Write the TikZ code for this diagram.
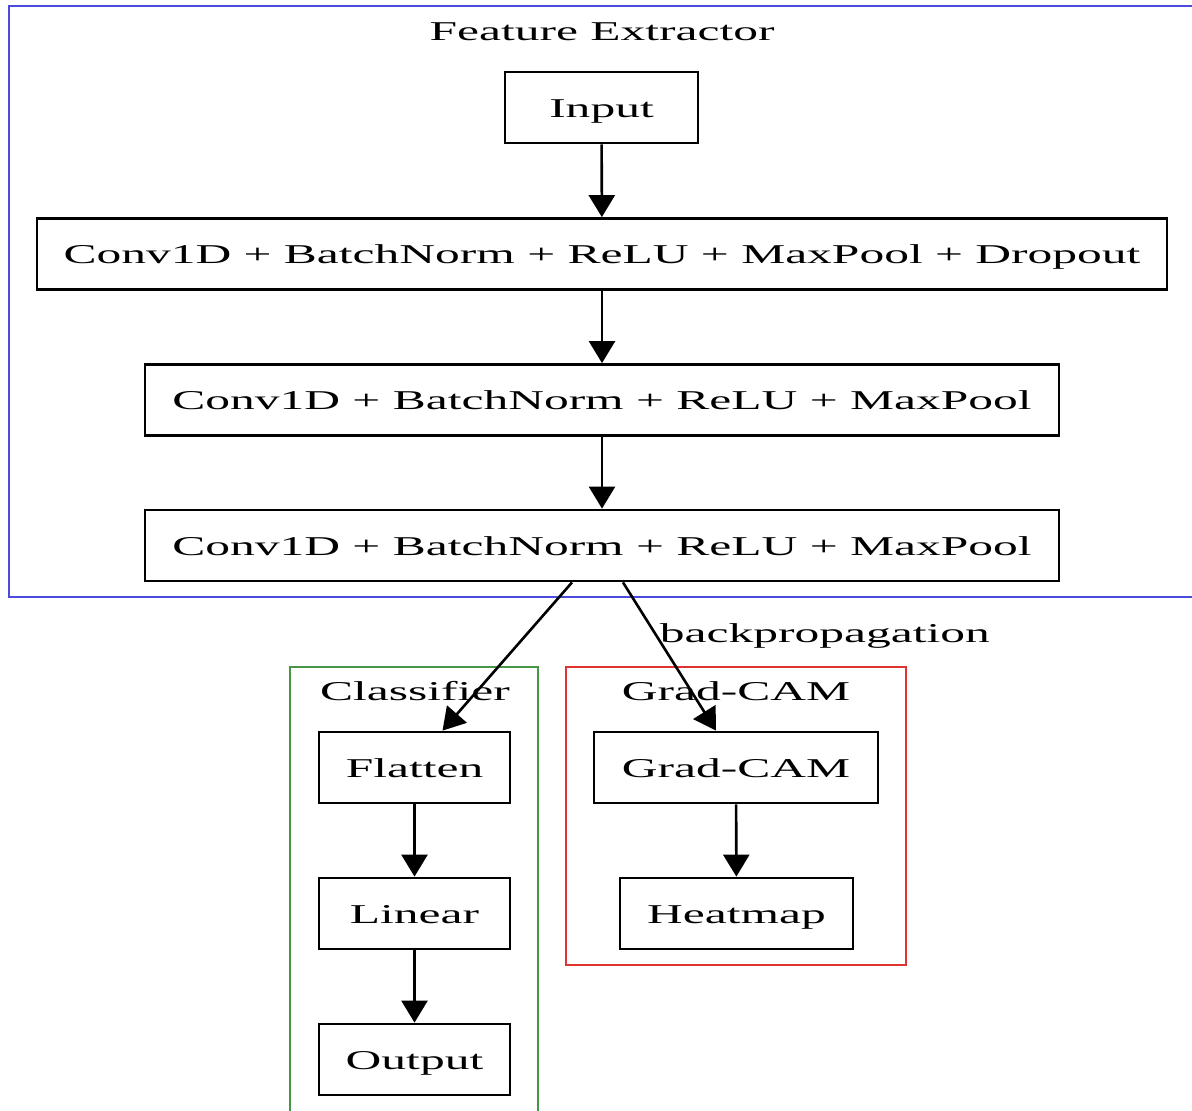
\documentclass[tikz,border=0pt]{standalone}
\usepackage{fontspec}
\setmainfont{Liberation Serif}
\newfontfamily\widefont[FakeStretch=1.82]{Liberation Serif}
\usetikzlibrary{arrows.meta}
\definecolor{clusterblue}{RGB}{75,75,220}
\definecolor{clustergreen}{RGB}{70,150,70}
\definecolor{clusterred}{RGB}{225,50,50}
\begin{document}
\begin{tikzpicture}[x=0.5pt,y=-0.5pt,
  every node/.style={font=\widefont\fontsize{13.6}{16}\selectfont,
    text height=\dimexpr0.662em+3pt\relax, text depth=0pt},
  layer/.style={draw, line width=1.4pt, inner sep=0pt, minimum height=35.5pt},
  flow/.style={line width=1.3pt, -{Triangle[length=11pt,width=13pt]}},
  cluster/.style={line width=1.4pt},
  title/.style={inner sep=0pt}]
\clip (0,0) rectangle (1192,1110);
\fill[white] (0,0) rectangle (1192,1110);

% cluster frames
\draw[cluster, clusterblue] (9,6) rectangle (1200,597);
\draw[cluster, clustergreen] (290,667) rectangle (538,1120);
\draw[cluster, clusterred] (566,667) rectangle (906,965);

% cluster titles
\node[title] (tfe) at (602,31) {Feature Extractor};
\node[title] (tcl) at (415,691) {Classifier};
\node[title] (tgc) at (736,691) {Grad-CAM};

% feature extractor
\node[layer, minimum width=96.5pt] (inp) at (601.5,107.5) {Input};
\node[layer, minimum width=565pt] (b1) at (602,254) {Conv1D + BatchNorm + ReLU + MaxPool + Dropout};
\node[layer, minimum width=457pt] (b2) at (602,400) {Conv1D + BatchNorm + ReLU + MaxPool};
\node[layer, minimum width=457pt] (b3) at (602,545.5) {Conv1D + BatchNorm + ReLU + MaxPool};

% classifier
\node[layer, minimum width=95.5pt] (fl) at (414.5,767.5) {Flatten};
\node[layer, minimum width=95.5pt] (li) at (414.5,913.5) {Linear};
\node[layer, minimum width=95.5pt] (out) at (414.5,1059.5) {Output};

% grad-cam
\node[layer, minimum width=142pt] (gc) at (736,767.5) {Grad-CAM};
\node[layer, minimum width=116.5pt] (hm) at (736.5,913.5) {Heatmap};

% connectors
\draw[flow] (inp) -- (b1);
\draw[flow] (b1) -- (b2);
\draw[flow] (b2) -- (b3);
\draw[flow] ([xshift=-15pt]b3.south) -- ([xshift=14pt]fl.north);
\draw[flow] ([xshift=10.5pt]b3.south) -- node[pos=0.34, anchor=west, inner sep=2pt] (bp) {backpropagation} ([xshift=-10pt]gc.north);
\draw[flow] (fl) -- (li);
\draw[flow] (li) -- (out);
\draw[flow] (gc) -- (hm);
\end{tikzpicture}
\end{document}
